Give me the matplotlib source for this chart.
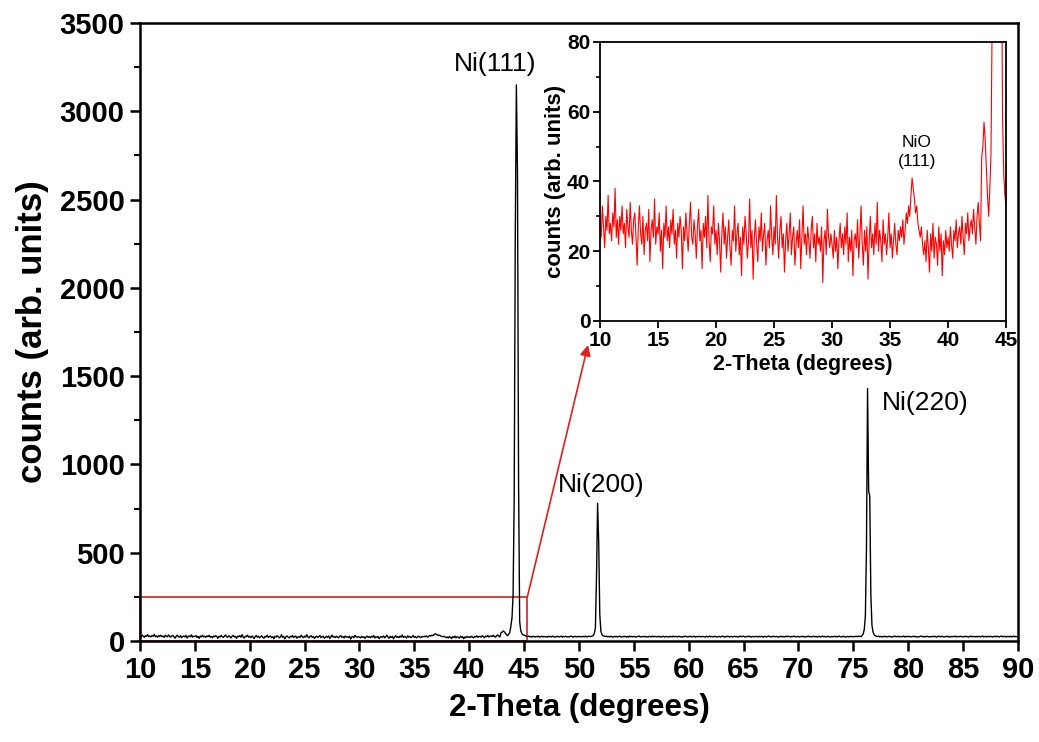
import matplotlib
matplotlib.use("Agg")
import matplotlib.pyplot as plt
import numpy as np

plt.rcParams['font.family'] = ['Liberation Sans', 'DejaVu Sans']

# XRD counts, 0.1 deg steps from 10 to 90 deg (2-theta)
counts_10_20 = [
    29, 24, 33, 27, 21, 30, 26, 36, 25, 28,
    23, 31, 27, 38, 24, 29, 22, 30, 26, 33,
    25, 28, 21, 32, 27, 24, 34, 26, 22, 29,
    31, 24, 16, 27, 33, 25, 22, 30, 19, 26,
    28, 23, 32, 17, 26, 29, 24, 35, 22, 27,
    25, 31, 20, 26, 15, 28, 24, 33, 23, 27,
    21, 29, 25, 32, 22, 26, 18, 28, 24, 30,
    26, 15, 27, 23, 31, 25, 20, 28, 34, 24,
    22, 29, 25, 18, 27, 32, 23, 26, 15, 28,
    24, 30, 21, 36, 23, 17, 27, 25, 33, 22,
]
counts_20_30 = [
    26, 19, 28, 23, 14, 25, 31, 22, 27, 18,
    24, 29, 21, 16, 26, 23, 33, 20, 25, 28,
    19, 24, 13, 27, 22, 30, 25, 18, 23, 35,
    21, 26, 12, 24, 29, 22, 17, 27, 23, 31,
    20, 25, 28, 16, 23, 26, 21, 33, 24, 19,
    27, 22, 36, 24, 18, 26, 30, 21, 25, 14,
    23, 28, 20, 25, 31, 19, 24, 27, 16, 22,
    26, 21, 29, 15, 24, 33, 22, 25, 19, 27,
    23, 18, 26, 30, 21, 25, 17, 28, 22, 24,
    20, 27, 11, 23, 26, 19, 32, 24, 21, 25,
]
counts_30_40 = [
    22, 18, 26, 20, 24, 15, 23, 28, 21, 25,
    19, 27, 22, 31, 17, 24, 20, 26, 13, 23,
    25, 21, 29, 18, 24, 33, 22, 16, 26, 20,
    27, 12, 23, 30, 21, 25, 19, 28, 22, 34,
    20, 26, 23, 17, 29, 22, 25, 19, 24, 31,
    21, 25, 18, 23, 28, 22, 19, 26, 23, 27,
    24, 29, 22, 26, 31, 28, 33, 30, 36, 41,
    38, 35, 31, 33, 28, 26, 24, 27, 22, 19,
    23, 17, 26, 21, 14, 25, 20, 28, 18, 24,
    22, 16, 27, 20, 25, 13, 23, 19, 26, 21,
]
counts_40_50 = [
    24, 20, 27, 22, 18, 26, 23, 29, 21, 25,
    27, 22, 30, 24, 19, 28, 25, 31, 23, 27,
    29, 25, 32, 27, 22, 30, 34, 28, 23, 47,
    50, 57, 52, 44, 36, 30, 38, 48, 85, 130,
    260, 800, 2300, 3150, 2650, 900, 110, 58, 42, 36,
    33, 30, 27, 25, 28, 24, 26, 22, 27, 25,
    23, 26, 24, 28, 22, 25, 27, 23, 26, 24,
    25, 22, 27, 24, 26, 23, 28, 24, 22, 26,
    24, 27, 23, 25, 28, 22, 26, 24, 27, 23,
    25, 23, 26, 28, 24, 22, 27, 25, 23, 26,
]
counts_50_60 = [
    24, 27, 23, 25, 26, 24, 28, 23, 25, 27,
    26, 25, 28, 31, 42, 75, 360, 780, 560, 150,
    55, 36, 30, 27, 25, 28, 24, 26, 23, 27,
    25, 22, 26, 24, 27, 23, 25, 28, 24, 22,
    26, 24, 27, 23, 25, 22, 28, 24, 26, 23,
    27, 24, 22, 26, 25, 28, 23, 25, 24, 27,
    23, 26, 24, 22, 27, 25, 23, 28, 24, 26,
    25, 23, 27, 24, 26, 22, 25, 27, 23, 24,
    26, 24, 22, 27, 25, 23, 28, 24, 26, 25,
    23, 27, 25, 24, 22, 26, 24, 28, 25, 23,
]
counts_60_70 = [
    26, 24, 27, 23, 25, 28, 22, 26, 24, 25,
    27, 23, 25, 26, 24, 22, 27, 25, 23, 28,
    24, 26, 23, 25, 27, 24, 22, 26, 25, 23,
    25, 28, 24, 22, 26, 25, 27, 23, 24, 26,
    23, 25, 27, 24, 26, 22, 25, 28, 24, 26,
    27, 24, 23, 26, 25, 28, 24, 22, 26, 25,
    24, 26, 25, 23, 27, 24, 26, 25, 22, 27,
    25, 23, 26, 28, 24, 25, 23, 27, 26, 24,
    26, 24, 22, 25, 27, 24, 26, 23, 25, 28,
    24, 27, 25, 23, 26, 24, 28, 25, 23, 26,
]
counts_70_80 = [
    25, 23, 26, 24, 27, 25, 22, 26, 24, 28,
    24, 26, 23, 25, 27, 24, 26, 22, 25, 27,
    23, 25, 28, 24, 26, 23, 25, 27, 24, 22,
    26, 24, 25, 27, 23, 26, 24, 28, 25, 23,
    25, 27, 24, 22, 26, 25, 23, 27, 24, 26,
    24, 26, 25, 27, 24, 28, 26, 25, 30, 40,
    65, 140, 520, 1430, 850, 820, 260, 90, 50, 36,
    30, 27, 25, 28, 24, 26, 23, 25, 27, 24,
    26, 23, 25, 27, 24, 22, 26, 25, 28, 24,
    25, 27, 23, 26, 24, 25, 28, 23, 26, 24,
]
counts_80_90 = [
    27, 24, 26, 23, 25, 28, 24, 26, 22, 25,
    24, 26, 28, 25, 23, 26, 24, 27, 25, 23,
    26, 23, 25, 27, 24, 26, 22, 25, 28, 24,
    25, 27, 24, 23, 26, 25, 27, 24, 22, 26,
    24, 26, 25, 28, 23, 25, 26, 24, 27, 25,
    23, 25, 27, 24, 26, 22, 25, 28, 24, 26,
    25, 24, 26, 23, 27, 25, 24, 26, 28, 23,
    26, 25, 23, 27, 24, 26, 25, 22, 26, 27,
    24, 27, 25, 23, 26, 28, 24, 25, 27, 23,
    25, 26, 24, 27, 23, 25, 28, 24, 26, 25,
    24,
]

counts = np.concatenate([counts_10_20, counts_20_30, counts_30_40, counts_40_50,
                         counts_50_60, counts_60_70, counts_70_80, counts_80_90])
two_theta = np.linspace(10, 90, len(counts))

peak_labels = ['Ni(111)', 'Ni(200)', 'Ni(220)']
peak_label_pos = [(42.4, 3265), (52.0, 885), (81.6, 1350)]

zoom_xmax = 45.3
zoom_ymax = 250

fig = plt.figure(figsize=(10.39, 7.42), dpi=100)
ax = fig.add_axes([0.1347, 0.1361, 0.845, 0.8329])

ax.plot(two_theta, counts, color='black', lw=1.0, zorder=3)
ax.set_xlim(10, 90)
ax.set_ylim(0, 3500)
ax.set_xticks(np.arange(10, 91, 5))
ax.set_yticks(np.arange(0, 3501, 500))
ax.set_yticks(np.arange(250, 3500, 500), minor=True)
for s in ax.spines.values():
    s.set_linewidth(1.8)
ax.tick_params(which='major', direction='out', length=7, width=1.8,
               labelsize=21, pad=4, top=False, right=False)
ax.tick_params(which='minor', direction='out', length=4, width=1.5,
               top=False, right=False)
for lab in ax.get_xticklabels() + ax.get_yticklabels():
    lab.set_fontweight('bold')
ax.set_xlabel('2-Theta (degrees)', fontsize=22.5, fontweight='bold', labelpad=6)
ax.set_ylabel('counts (arb. units)', fontsize=25, fontweight='bold', labelpad=8)

for lab, (x, y) in zip(peak_labels, peak_label_pos):
    ax.text(x, y, lab, fontsize=19, ha='center', va='center', zorder=4)

# zoom box and arrow to inset
ax.add_patch(plt.Rectangle((10, 0), zoom_xmax - 10, zoom_ymax, fill=False,
                           edgecolor='#d42020', lw=1.2, zorder=2, clip_on=False))
ax.annotate('', xy=(588 / 1039, 1 - 345 / 742), xycoords='figure fraction',
            xytext=(zoom_xmax, zoom_ymax), textcoords='data',
            arrowprops=dict(arrowstyle='-|>', color='#e02020', lw=1.2,
                            mutation_scale=16, shrinkA=0, shrinkB=0))

# inset
axi = fig.add_axes([0.5775, 0.5674, 0.3908, 0.376])
axi.plot(two_theta, counts, color='#ff0000', lw=0.8)
axi.set_xlim(10, 45)
axi.set_ylim(0, 80)
axi.set_xticks(np.arange(10, 46, 5))
axi.set_yticks(np.arange(0, 81, 20))
axi.set_yticks(np.arange(10, 80, 20), minor=True)
for s in axi.spines.values():
    s.set_linewidth(1.3)
axi.tick_params(which='major', direction='out', length=5, width=1.3,
                labelsize=15, pad=2, top=False, right=False)
axi.tick_params(which='minor', direction='out', length=3, width=1.2,
                top=False, right=False)
for lab in axi.get_xticklabels() + axi.get_yticklabels():
    lab.set_fontweight('bold')
axi.set_xlabel('2-Theta (degrees)', fontsize=15.5, fontweight='bold', labelpad=3)
axi.set_ylabel('counts (arb. units)', fontsize=16, fontweight='bold', labelpad=1)
axi.text(37.3, 48.5, 'NiO\n(111)', fontsize=12.5, ha='center', va='center',
         linespacing=1.35)

fig.savefig('out.png', dpi=100)
